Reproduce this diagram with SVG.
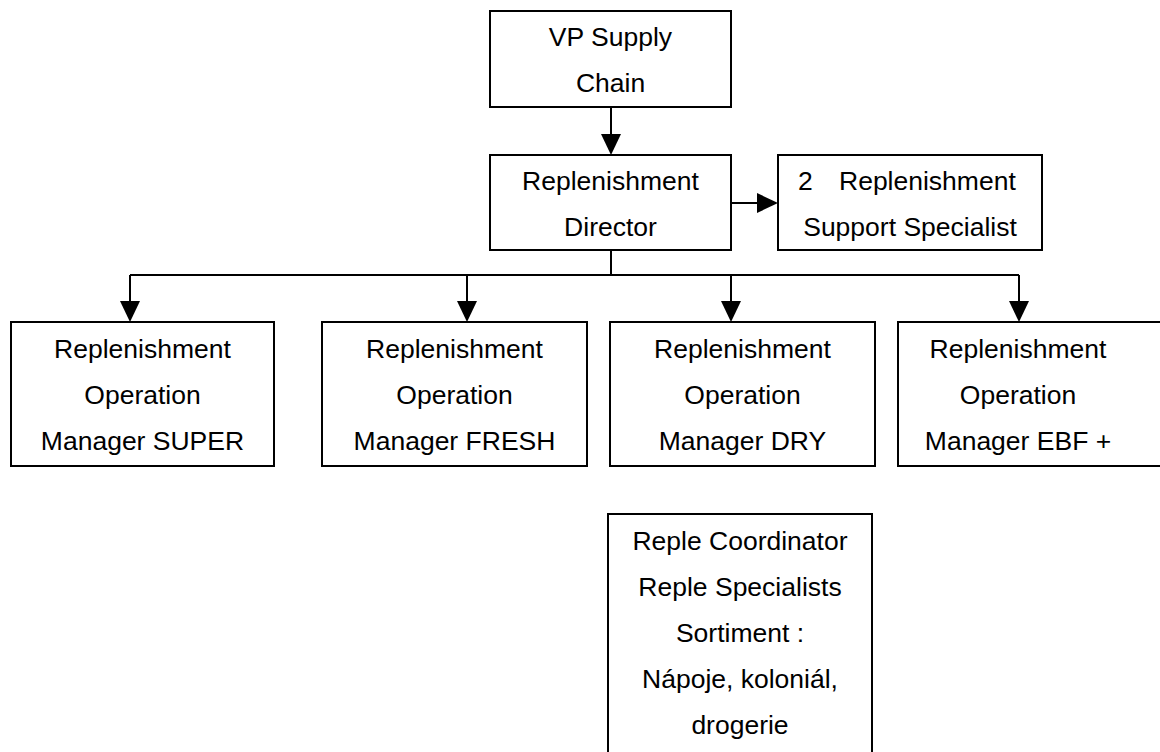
<svg xmlns="http://www.w3.org/2000/svg" width="1160" height="752" viewBox="0 0 1160 752">
<style>
.box{fill:#fff;stroke:#000;stroke-width:2}
.t{font-family:"Liberation Sans",Arial,sans-serif;font-size:26.5px;fill:#000;text-anchor:middle}
.c{fill:none;stroke:#000;stroke-width:2}
</style>
<defs>
<marker id="ah" viewBox="0 0 21 20" refX="11" refY="10" markerWidth="21" markerHeight="20" markerUnits="userSpaceOnUse" orient="auto">
<path d="M0,0 L21,10 L0,20 Z" fill="#000"/>
</marker>
</defs>
<rect width="1160" height="752" fill="#fff"/>
<g id="connectors">
<line class="c" x1="611" y1="107" x2="611" y2="145" marker-end="url(#ah)"/>
<line class="c" x1="731" y1="203" x2="768" y2="203" marker-end="url(#ah)"/>
<polyline class="c" points="611,250 611,275"/>
<polyline class="c" points="130,275 1019,275"/>
<line class="c" x1="130" y1="275" x2="130" y2="312" marker-end="url(#ah)"/>
<line class="c" x1="467" y1="275" x2="467" y2="312" marker-end="url(#ah)"/>
<line class="c" x1="731" y1="275" x2="731" y2="312" marker-end="url(#ah)"/>
<line class="c" x1="1019" y1="275" x2="1019" y2="312" marker-end="url(#ah)"/>
</g>
<g id="vp">
<rect class="box" x="490" y="11" width="241" height="96"/>
<text class="t" x="610.5" y="46">VP Supply</text>
<text class="t" x="610.5" y="92">Chain</text>
</g>
<g id="director">
<rect class="box" x="490" y="155" width="241" height="95"/>
<text class="t" x="610.5" y="190">Replenishment</text>
<text class="t" x="610.5" y="236">Director</text>
</g>
<g id="support">
<rect class="box" x="778" y="155" width="264" height="95"/>
<text class="t" y="190" style="text-anchor:start"><tspan x="798">2</tspan><tspan x="839">Replenishment</tspan></text>
<text class="t" x="910" y="236">Support Specialist</text>
</g>
<g id="super">
<rect class="box" x="11" y="322" width="263" height="144"/>
<text class="t" x="142.5" y="358">Replenishment</text>
<text class="t" x="142.5" y="404">Operation</text>
<text class="t" x="142.5" y="450">Manager SUPER</text>
</g>
<g id="fresh">
<rect class="box" x="322" y="322" width="265" height="144"/>
<text class="t" x="454.5" y="358">Replenishment</text>
<text class="t" x="454.5" y="404">Operation</text>
<text class="t" x="454.5" y="450">Manager FRESH</text>
</g>
<g id="dry">
<rect class="box" x="610" y="322" width="265" height="144"/>
<text class="t" x="742.5" y="358">Replenishment</text>
<text class="t" x="742.5" y="404">Operation</text>
<text class="t" x="742.5" y="450">Manager DRY</text>
</g>
<g id="ebf">
<rect class="box" x="898" y="322" width="300" height="144"/>
<text class="t" x="1018" y="358">Replenishment</text>
<text class="t" x="1018" y="404">Operation</text>
<text class="t" x="1018" y="450">Manager EBF +</text>
</g>
<g id="coordinator">
<rect class="box" x="608" y="514" width="264" height="260"/>
<text class="t" x="740" y="550">Reple Coordinator</text>
<text class="t" x="740" y="596">Reple Specialists</text>
<text class="t" x="740" y="642">Sortiment :</text>
<text class="t" x="740" y="688">Nápoje, koloniál,</text>
<text class="t" x="740" y="734">drogerie</text>
</g>
</svg>
